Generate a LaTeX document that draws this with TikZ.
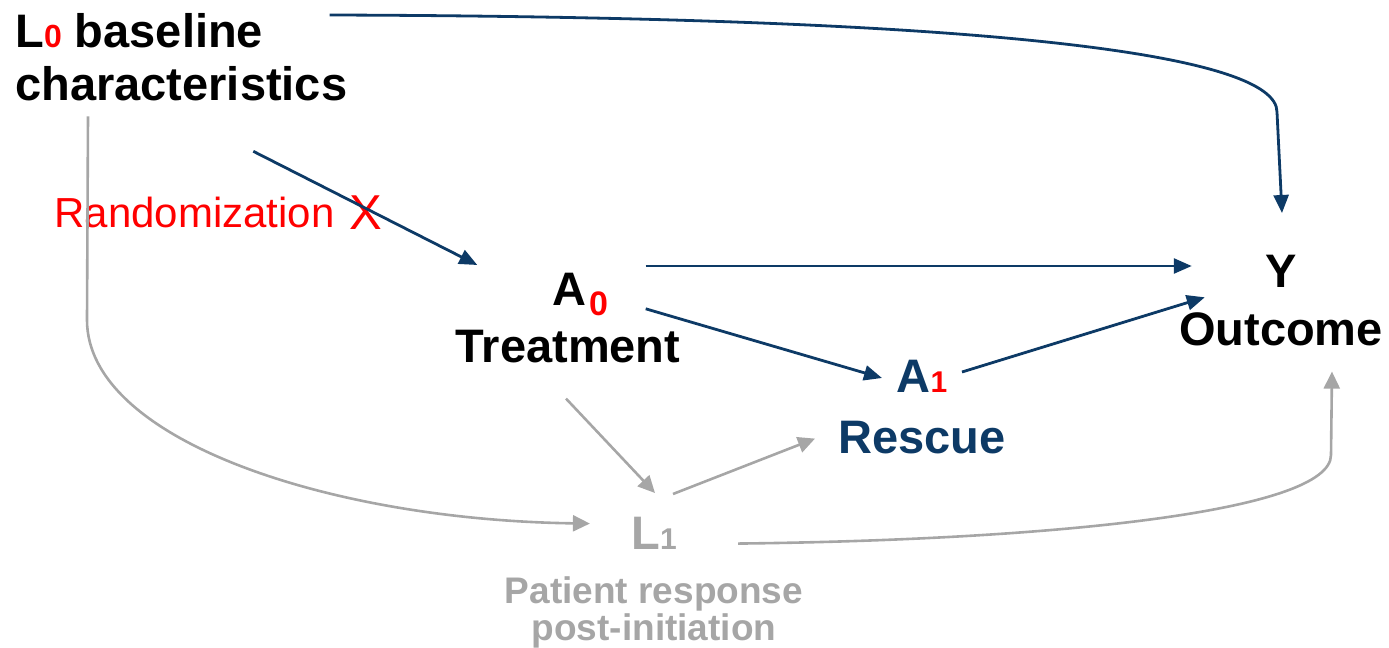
\documentclass[tikz,border=0pt]{standalone}
\usepackage{fontspec}
\setmainfont{Liberation Sans}
\usetikzlibrary{arrows.meta,calc,positioning}

\definecolor{dagblue}{HTML}{0D3A66}
\definecolor{daggray}{HTML}{A6A6A6}
\newcommand{\subidx}[2][15]{{\fontsize{#1}{#1}\selectfont #2}}

\begin{document}
\begin{tikzpicture}[x=0.5pt,y=-0.5pt,
  var/.style={inner sep=0pt, align=center},
  blueline/.style={draw=dagblue, line width=1.4pt, -{Triangle[length=9pt,width=7.5pt]}},
  grayline/.style={draw=daggray, line width=1.3pt, -{Triangle[length=8.5pt,width=8pt]}}]
\useasboundingbox (0,0) rectangle (1389,648);

\node[var, anchor=north west, align=left, font=\fontsize{23.5}{26.5}\selectfont\bfseries] (l0) at (15,13) {L\textcolor{red}{\subidx[16]{0}} baseline\\characteristics};
\node[anchor=base west, inner sep=0pt, text=red, font=\fontsize{21}{21}\selectfont] (rand) at (54,227) {Randomization\hspace{7.7pt}\raisebox{-1.5pt}{\fontsize{24.5}{24.5}\selectfont X}};

\node[var, anchor=north, font=\fontsize{23.5}{28.5}\selectfont\bfseries] (a0) at (568,273) {\hspace*{12pt}A\kern1.5pt\raisebox{-5pt}{\textcolor{red}{\subidx[17]{0}}}\\Treatment};
\node[var, anchor=north, text=dagblue, font=\fontsize{23.5}{30.5}\selectfont\bfseries] (a1) at (922,360) {A\textcolor{red}{\subidx{1}}\\Rescue};
\node[var, anchor=north, font=\fontsize{23.5}{29}\selectfont\bfseries] (y) at (1281,255) {Y\\Outcome};

\node[var, anchor=north, text=daggray, font=\fontsize{23.5}{23.5}\selectfont\bfseries] (l1) at (654,517) {L\subidx{1}};
\node[var, below=13pt of l1, text=daggray, font=\fontsize{18.5}{18.5}\selectfont\bfseries] (l1txt) {Patient response\\post-initiation};

% direct paths
\draw[blueline] ($(l0.north east)+(-18,2)$) .. controls (1000,17) and (1277,55) .. (1277,112) -- ($(y.north)+(1,-42)$);
\draw[blueline] ($(l0.south)+(72,50)$) -- ($(a0.north west)+(22,-8)$);
\draw[blueline] ($(a0.north east)+(-35,-7)$) -- ($(y.north west)+(13,11)$);
\draw[blueline] ($(a0.east)+(-35,-9.5)$) -- ($(a1.north west)+(44,18)$);
\draw[blueline] ($(a1.north east)+(-44,12)$) -- ($(y.west)+(26,-3.5)$);

% through L1
\draw[grayline] ($(a0.south)+(-2,35)$) -- ($(l1.north)+(1,-24)$);
\draw[grayline] ($(l1.north)+(19,-23)$) -- ($(a1.south west)+(-23,-16)$);
\draw[grayline] ($(l0.south west)+(73,15)$) -- (87,320) .. controls (87,440) and (330,520) .. ($(l1.west)+(-41,-10)$);
\draw[grayline] ($(l1.east)+(61,10)$) .. controls (1050,540) and (1331,512) .. (1331,455) -- ($(y.south)+(51,25)$);
\end{tikzpicture}
\end{document}
